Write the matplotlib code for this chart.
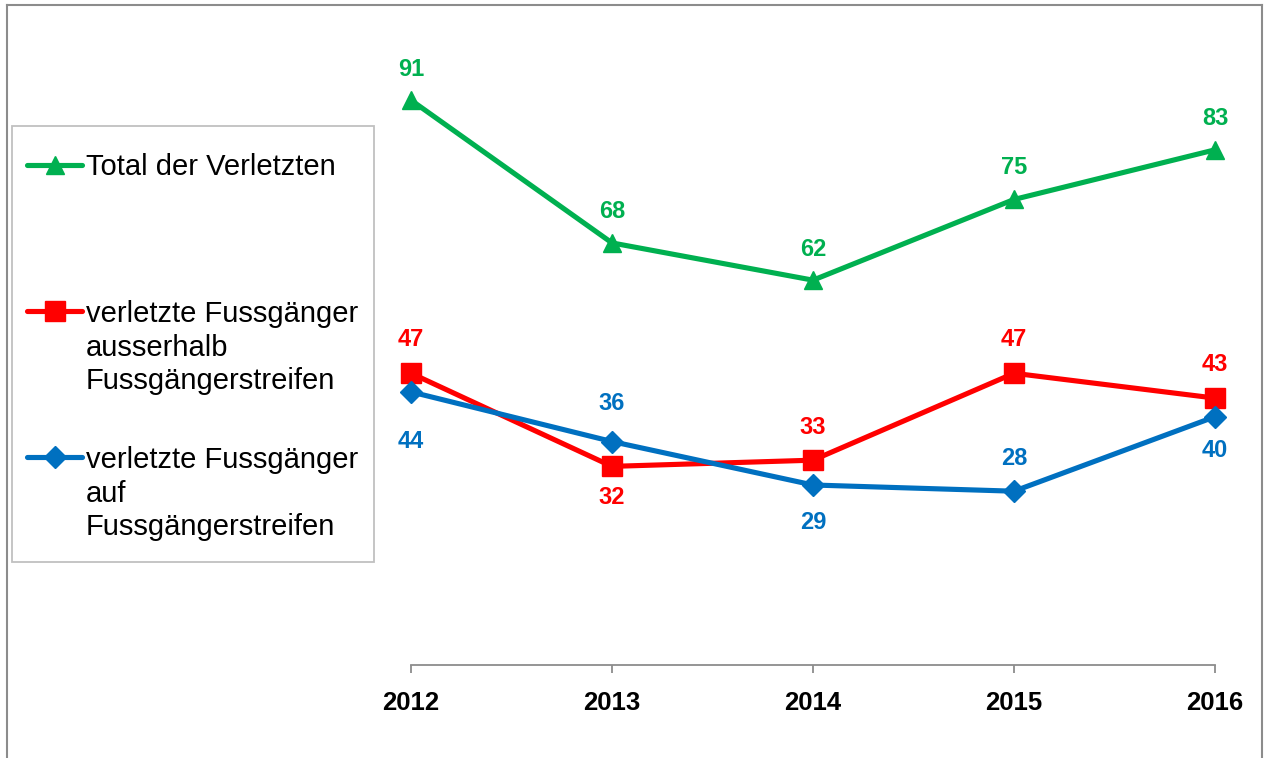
import matplotlib.pyplot as plt
from matplotlib.lines import Line2D
from matplotlib.patches import Rectangle

plt.rcParams['font.family'] = ['Liberation Sans', 'DejaVu Sans']

years = [2012, 2013, 2014, 2015, 2016]
total = [91, 68, 62, 75, 83]
ausserhalb = [47, 32, 33, 47, 43]
auf = [44, 36, 29, 28, 40]

names = ['Total der Verletzten',
         'verletzte Fussgänger\nausserhalb\nFussgängerstreifen',
         'verletzte Fussgänger\nauf\nFussgängerstreifen']

green = '#00B050'
red = '#FF0000'
blue = '#0070C0'

# label centre offsets in pixels (positive = below the point)
off_total = [-32, -33, -32, -33, -33]
off_ausser = [-35, 30, -34, -35, -35]
off_auf = [48, -40, 36, -34, 32]

W, H = 1266, 758
fig = plt.figure(figsize=(W / 100, H / 100), dpi=100)


def fx(x):
    return x / W


def fy(y):
    return 1 - y / H


ax = fig.add_axes([fx(411), fy(665), (1215 - 411) / W, 620.7 / H])
ax.set_xlim(2012, 2016)
ax.set_ylim(0, 100)

series = [
    (total, green, '^', 13, off_total),
    (ausserhalb, red, 's', 14, off_ausser),
    (auf, blue, 'D', 11, off_auf),
]

for vals, col, mk, ms, offs in series:
    ax.plot(years, vals, color=col, lw=3.7, marker=mk, ms=ms,
            clip_on=False, solid_joinstyle='miter')
    for x, v, o in zip(years, vals, offs):
        ax.annotate(str(v), (x, v), xytext=(0, -(o + 8) * 0.72),
                    textcoords='offset points', ha='center', va='baseline',
                    fontsize=17, fontweight='bold', color=col,
                    annotation_clip=False)

for s in ['top', 'right', 'left']:
    ax.spines[s].set_visible(False)
ax.spines['bottom'].set_color('#8c8c8c')
ax.spines['bottom'].set_linewidth(1.3)
ax.set_yticks([])
ax.set_xticks(years)
ax.set_xticklabels([str(y) for y in years], fontsize=18.5, fontweight='bold')
ax.tick_params(axis='x', direction='out', length=6, width=1.3,
               color='#8c8c8c', pad=13)
ax.patch.set_alpha(0)

# outer frame (cut off at the bottom)
fc = '#8c8c8c'
fig.add_artist(Line2D([fx(7), fx(7)], [fy(5), 0], color=fc, lw=1.5))
fig.add_artist(Line2D([fx(7), fx(1262)], [fy(5), fy(5)], color=fc, lw=1.5))
fig.add_artist(Line2D([fx(1262), fx(1262)], [fy(5), 0], color=fc, lw=1.5))

# legend
fig.add_artist(Rectangle((fx(12), fy(562)), fx(374) - fx(12), fy(126) - fy(562),
                         transform=fig.transFigure, fill=False,
                         edgecolor='#c0c0c0', lw=1.3))
handle_y = [165, 311, 457]
# baseline of the last text line of each entry
text_y = [175, 389, 535]
for (vals, col, mk, ms, offs), name, hy, ty in zip(series, names, handle_y, text_y):
    fig.add_artist(Line2D([fx(27), fx(82)], [fy(hy), fy(hy)], color=col, lw=3.7,
                          solid_capstyle='round'))
    fig.add_artist(Line2D([fx(54.5)], [fy(hy)], color=col, marker=mk,
                          ms=ms, lw=0))
    fig.text(fx(86), fy(ty), name, va='baseline', ha='left', fontsize=21,
             color='black', linespacing=1.25)

fig.savefig('out.png', dpi=100)
